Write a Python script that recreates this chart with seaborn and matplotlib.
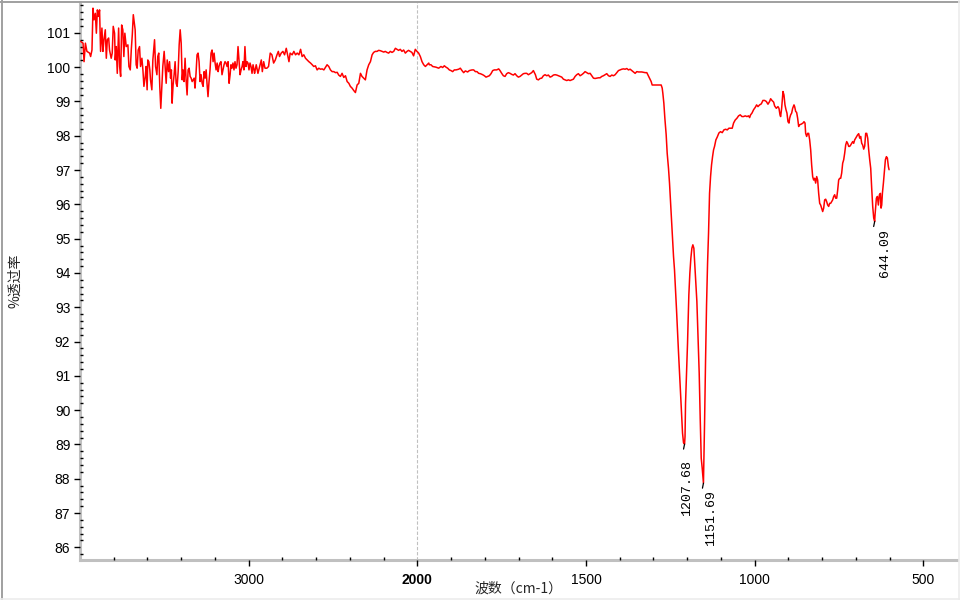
import numpy as np
import pandas as pd
import matplotlib
matplotlib.use("Agg")
import matplotlib.pyplot as plt
from matplotlib.lines import Line2D
from matplotlib.ticker import FixedLocator, NullFormatter
import seaborn as sns

# ---------------- data ----------------
wavenumber = [
    3996, 3982, 3976, 3968, 3959, 3943, 3937, 3929, 3923, 3917, 3909, 3903, 3897, 3890, 3884,
    3878, 3870, 3864, 3858, 3850, 3844, 3838, 3830, 3825, 3815, 3809, 3803, 3795, 3791, 3785,
    3779, 3771, 3765, 3759, 3753, 3746, 3740, 3734, 3726, 3716, 3710, 3702, 3696, 3690, 3684,
    3679, 3673, 3667, 3661, 3655, 3647, 3641, 3633, 3627, 3621, 3613, 3608, 3602, 3598, 3592,
    3586, 3582, 3574, 3568, 3558, 3552, 3544, 3539, 3533, 3527, 3521, 3515, 3509, 3501, 3495,
    3489, 3483,
    3475, 3469, 3463, 3458, 3454, 3448, 3442, 3436, 3430, 3424, 3418, 3412, 3406, 3400, 3394,
    3389, 3383, 3377, 3371, 3365, 3359, 3353, 3347, 3341, 3335, 3329, 3323, 3318, 3312, 3306,
    3300, 3294, 3288, 3282, 3276, 3270, 3264, 3258, 3252, 3247, 3241, 3235, 3229, 3223, 3217,
    3211, 3205, 3199, 3193, 3187, 3181, 3176, 3170, 3164, 3158, 3152, 3146, 3140, 3134, 3128,
    3122, 3116, 3110, 3105, 3099, 3093, 3087, 3081, 3075, 3069, 3063, 3057, 3051, 3045, 3039,
    3034, 3028, 3022, 3016, 3010, 3004, 2998, 2992, 2986, 2980, 2974, 2968,
    2965, 2955, 2945, 2935, 2925, 2919, 2911, 2903, 2892, 2882, 2872, 2862, 2852, 2842, 2832,
    2824, 2817, 2807, 2797, 2787, 2777, 2767, 2761, 2754, 2742, 2732, 2722, 2712, 2702, 2692,
    2683, 2673, 2663, 2653, 2643, 2633, 2623, 2614, 2604, 2594, 2584, 2574, 2564, 2554, 2544,
    2535, 2525, 2515, 2505, 2495, 2485, 2475, 2466, 2456, 2446, 2436, 2426, 2416, 2406, 2397,
    2387, 2377, 2367, 2357, 2347, 2337, 2328, 2318, 2308, 2298, 2288, 2278, 2268, 2259, 2249,
    2239, 2229, 2219, 2209, 2199, 2190, 2180, 2170, 2160, 2150, 2140, 2130, 2120, 2111, 2101,
    2091, 2081, 2071, 2061, 2052, 2042, 2032, 2022, 2012, 2002, 1996, 1991, 1986, 1981, 1976,
    1971, 1966,
    1964.4, 1959.5, 1954.5, 1944.7, 1936.7, 1929.8, 1924.9, 1919.9, 1915.0, 1910.0, 1905.1,
    1900.1, 1895.2, 1890.3, 1885.3, 1877.4, 1872.5, 1867.5, 1862.6, 1857.6, 1850.7, 1845.8,
    1837.8, 1832.9, 1827.9, 1823.0, 1818.1, 1813.1, 1806.2, 1801.2, 1796.3, 1791.4, 1786.4,
    1781.5, 1776.5, 1771.6, 1764.7, 1758.7, 1754.8, 1749.8, 1744.9, 1739.9, 1735.0, 1730.0,
    1725.1, 1720.2, 1715.2, 1710.3, 1705.3, 1700.4, 1695.4, 1690.5, 1685.5, 1680.6, 1675.6,
    1670.7, 1665.8, 1660.8, 1655.9, 1652.9, 1649.9, 1646.0, 1641.0, 1636.1, 1631.1, 1626.2,
    1621.3, 1616.3, 1611.4, 1606.4, 1601.5, 1596.5, 1591.6, 1586.6, 1581.7, 1576.7, 1571.8,
    1566.9, 1561.9, 1557.0, 1552.0, 1547.1, 1542.1, 1537.2, 1532.2, 1527.3, 1522.4, 1517.4,
    1512.5, 1507.5, 1502.6, 1497.6, 1492.7, 1487.7, 1482.8, 1477.8, 1472.9, 1467.9, 1463.0,
    1458.1, 1453.1, 1448.2, 1443.2, 1438.3, 1433.3, 1428.4, 1423.4, 1418.5, 1413.5, 1408.6,
    1403.7, 1398.7, 1393.8, 1388.8, 1383.9, 1378.9, 1374.0, 1369.0, 1364.1, 1359.2, 1354.2,
    1349.3, 1344.3, 1339.4, 1334.4, 1329.5, 1324.5, 1319.6,
    1316.6, 1311.6, 1306.7, 1303.7, 1291.9, 1277.0, 1274.0, 1272.1, 1269.1, 1266.1, 1262.2,
    1259.2, 1255.3, 1252.3, 1249.3, 1246.4, 1243.4, 1240.4, 1237.5, 1234.5, 1231.5, 1228.6,
    1225.6, 1222.6, 1219.7, 1216.7, 1213.7, 1210.8, 1207.68, 1206.3, 1204.8, 1201.9, 1198.9,
    1195.0, 1192.0, 1189.0, 1186.0, 1183.1, 1180.1, 1178.1, 1175.2, 1171.2, 1168.2, 1164.3,
    1161.3, 1158.3, 1155.4, 1151.69, 1150.4, 1148.4, 1145.5, 1142.5, 1139.5, 1136.6, 1133.6,
    1130.6, 1127.7, 1124.7, 1121.7, 1118.8, 1114.8, 1110.9, 1105.9, 1101.0, 1096.0, 1091.1,
    1086.1, 1081.2, 1076.2, 1071.3, 1066.4, 1062.4, 1057.5, 1052.5, 1047.6, 1042.6, 1037.7,
    1032.7, 1027.8, 1022.8, 1017.9,
    1014.8, 1011.9, 1007.9, 1003.0, 998.0, 994.1, 990.1, 985.2, 980.2, 975.3, 970.3, 965.4,
    960.4, 955.5, 952.5, 948.6, 943.6, 940.7, 935.7, 930.8, 927.8, 924.8, 922.9, 919.9, 917.9,
    915.9, 913.0, 910.0, 907.0, 904.1, 901.1, 898.1, 896.2, 893.2, 890.2, 887.2, 883.3, 881.3,
    878.3, 875.4, 872.4, 869.4, 866.5, 861.5, 856.6, 853.6, 850.6, 848.7, 845.7, 842.8, 839.8,
    836.8, 833.8, 830.9, 827.9, 825.0, 822.0, 819.0, 816.0, 813.1, 810.1, 807.1, 804.2, 801.2,
    798.2, 795.3, 792.3, 789.3, 786.4, 783.4, 780.4, 777.5, 774.5, 771.5, 768.6, 765.6, 762.6,
    759.7, 756.7, 753.7, 750.8, 747.8, 744.8, 741.9, 738.9, 735.9, 733.0, 730.0, 727.0, 724.1,
    721.1, 718.1, 715.2, 712.2, 709.2, 706.3, 703.3, 700.3, 697.4, 694.4, 691.4, 688.5, 685.5,
    682.5, 679.6, 676.6, 673.6, 670.7, 667.7, 664.7, 661.8, 658.8, 655.8, 652.9, 649.9, 646.9,
    644.09, 643.0, 641.0, 639.0, 636.0, 633.1, 630.1, 627.1, 625.2, 623.2, 621.2, 618.2, 615.3,
    612.3, 609.3, 606.4, 603.4, 601.4,
]

transmittance = [
    100.75, 100.70, 100.16, 100.70, 100.46, 100.41, 100.31, 100.50, 101.72, 101.38, 101.57, 100.99, 101.67, 101.48, 101.67,
    100.46, 101.14, 100.46, 100.80, 101.09, 100.26, 100.80, 100.85, 100.50, 100.26, 100.41, 101.19, 100.99, 100.21, 100.60,
    99.82, 101.14, 100.02, 99.73, 101.23, 101.09, 100.31, 100.99, 100.60, 100.65, 100.02, 99.92, 100.50, 100.94, 101.53,
    101.33, 101.09, 100.07, 99.97, 100.50, 100.60, 100.02, 100.26, 99.92, 99.44, 99.73, 100.02, 99.34, 100.21, 100.16,
    99.92, 99.63, 99.34, 100.21, 100.80, 100.02, 99.78, 100.31, 100.41, 99.44, 98.80, 99.44, 100.02, 100.46, 99.97,
    99.53, 100.21,
    99.87, 100.16, 99.68, 99.92, 98.95, 99.48, 99.78, 100.16, 99.53, 99.44, 99.87, 100.65, 101.09, 100.70, 99.63,
    99.92, 99.58, 100.26, 99.63, 99.19, 99.92, 99.97, 99.73, 99.68, 99.58, 99.63, 99.68, 99.39, 99.82, 100.36,
    100.41, 100.16, 99.58, 99.78, 99.53, 99.44, 99.87, 99.68, 99.92, 99.53, 99.14, 99.58, 99.92, 100.41, 100.50,
    100.16, 100.41, 100.12, 99.92, 100.12, 99.87, 100.02, 100.12, 100.16, 99.78, 99.92, 100.07, 100.16, 100.12, 100.02,
    100.16, 99.53, 99.78, 100.07, 99.97, 100.12, 99.92, 100.16, 99.97, 100.07, 100.60, 100.21, 99.78, 99.92, 100.02,
    100.16, 99.92, 100.60, 100.02, 100.16, 100.12, 99.92, 100.12, 100.02, 99.82, 100.07, 99.92,
    99.82, 100.07, 99.82, 100.02, 100.21, 99.87, 100.16, 99.97, 99.97, 100.02, 100.41, 100.36, 100.12, 100.21, 100.36,
    100.46, 100.31, 100.41, 100.46, 100.36, 100.55, 100.31, 100.16, 100.41, 100.36, 100.46, 100.36, 100.41, 100.36, 100.52,
    100.31, 100.36, 100.26, 100.21, 100.16, 100.12, 100.07, 100.02, 100.04, 99.92, 99.97, 99.94, 99.95, 99.92, 100.00,
    100.07, 100.02, 99.92, 99.87, 99.87, 99.84, 99.85, 99.77, 99.73, 99.82, 99.70, 99.75, 99.58, 99.53, 99.44,
    99.39, 99.32, 99.26, 99.48, 99.53, 99.82, 99.73, 99.68, 99.63, 99.92, 100.07, 100.16, 100.36, 100.43, 100.46,
    100.46, 100.49, 100.48, 100.46, 100.44, 100.46, 100.43, 100.41, 100.46, 100.43, 100.46, 100.55, 100.52, 100.49, 100.52,
    100.46, 100.50, 100.41, 100.46, 100.49, 100.46, 100.43, 100.33, 100.52, 100.46, 100.41, 100.31, 100.16, 100.07, 100.02,
    100.07, 100.12,
    100.07, 100.07, 100.02, 100.00, 99.97, 100.02, 99.99, 100.04, 100.00, 99.97, 99.92,
    99.90, 99.87, 99.92, 99.92, 99.94, 99.97, 99.90, 99.84, 99.89, 99.86, 99.90,
    99.92, 99.92, 99.87, 99.87, 99.82, 99.81, 99.78, 99.75, 99.71, 99.73, 99.75,
    99.81, 99.90, 99.92, 99.92, 99.95, 99.90, 99.82, 99.75, 99.73, 99.81, 99.84,
    99.82, 99.79, 99.77, 99.81, 99.75, 99.71, 99.73, 99.77, 99.81, 99.82, 99.82,
    99.78, 99.81, 99.84, 99.90, 99.84, 99.78, 99.65, 99.63, 99.67, 99.68, 99.75,
    99.78, 99.75, 99.77, 99.71, 99.73, 99.77, 99.78, 99.77, 99.75, 99.73, 99.71,
    99.65, 99.63, 99.61, 99.63, 99.61, 99.63, 99.65, 99.73, 99.78, 99.81, 99.75,
    99.78, 99.82, 99.87, 99.84, 99.81, 99.82, 99.75, 99.68, 99.67, 99.68, 99.69,
    99.69, 99.73, 99.75, 99.78, 99.81, 99.75, 99.73, 99.77, 99.75, 99.78, 99.84,
    99.90, 99.92, 99.94, 99.95, 99.94, 99.96, 99.92, 99.94, 99.90, 99.86, 99.82,
    99.87, 99.86, 99.86, 99.86, 99.85, 99.84, 99.84,
    99.78, 99.68, 99.58, 99.48, 99.48, 99.48, 99.39, 99.24, 98.95, 98.51, 98.03,
    97.49, 97.05, 96.62, 96.08, 95.60, 95.06, 94.48, 94.09, 93.51, 92.92, 92.29,
    91.68, 91.08, 90.49, 89.86, 89.33, 89.05, 89.01, 89.23, 90.20, 91.08, 91.95,
    93.36, 93.99, 94.43, 94.72, 94.82, 94.72, 94.38, 93.85, 93.17, 92.24, 91.08,
    89.76, 88.60, 88.31, 87.87, 88.55, 89.62, 91.42, 93.07, 94.28, 95.16, 96.32,
    96.81, 97.15, 97.39, 97.59, 97.69, 97.88, 97.96, 98.08, 98.12, 98.09, 98.17,
    98.19, 98.17, 98.22, 98.22, 98.22, 98.37, 98.46, 98.51, 98.58, 98.61, 98.56,
    98.56, 98.58, 98.56, 98.58,
    98.53, 98.61, 98.66, 98.76, 98.83, 98.90, 98.85, 98.90, 98.93, 99.03, 99.03, 99.00,
    98.92, 99.00, 99.08, 99.03, 98.98, 98.87, 98.80, 98.85, 98.80, 98.61, 98.56, 98.80, 99.05,
    99.29, 99.19, 98.90, 98.76, 98.66, 98.41, 98.37, 98.51, 98.61, 98.66, 98.80, 98.90, 98.85,
    98.71, 98.68, 98.51, 98.27, 98.32, 98.34, 98.37, 98.41, 98.37, 98.07, 97.98, 98.07, 98.07,
    97.88, 97.59, 97.15, 96.81, 96.71, 96.76, 96.62, 96.81, 96.71, 96.32, 96.03, 95.98, 95.89,
    95.79, 95.89, 96.13, 96.15, 96.08, 95.98, 95.94, 96.03, 96.03, 96.08, 96.13, 96.23, 96.28,
    96.18, 96.18, 96.42, 96.71, 96.76, 96.76, 96.91, 97.20, 97.30, 97.49, 97.73, 97.83, 97.78,
    97.69, 97.69, 97.73, 97.78, 97.83, 97.78, 97.88, 97.93, 97.98, 98.03, 98.06, 97.93, 97.98,
    97.78, 97.73, 97.61, 97.70, 98.07, 98.07, 97.93, 97.59, 97.30, 97.05, 96.47, 95.94, 95.60,
    95.50, 95.69, 95.94, 96.18, 96.23, 95.98, 96.28, 96.32, 95.89, 95.98, 96.32, 96.62, 96.96,
    97.30, 97.39, 97.35, 97.10, 97.01,
]

peak_wn = [1207.68, 1151.69, 644.09]
peak_t = [89.01, 87.87, 95.50]
peak_labels = ["1207.68", "1151.69", "644.09"]

x_major = [3000, 2000, 1500, 1000, 500]
x_labels = ["3000", "2000", "1500", "1000", "500"]
y_major = list(range(86, 102))

# ---------------- style ----------------
sns.set_theme(style="white")
plt.rcParams["font.family"] = ["Liberation Sans", "Noto Sans CJK SC", "DejaVu Sans"]

fig = plt.figure(figsize=(9.6, 6), dpi=100)
ax = fig.add_axes([80 / 960, 40 / 600, 877 / 960, 558 / 600])


def fwd(x):
    x = np.asarray(x, dtype=float)
    return np.where(x > 2000, 2000 + (x - 2000) / 2.0, x)


def inv(y):
    y = np.asarray(y, dtype=float)
    return np.where(y > 2000, 2000 + (y - 2000) * 2.0, y)


ax.set_xscale("function", functions=(fwd, inv))

df = pd.DataFrame({"wn": wavenumber, "t": transmittance})
sns.lineplot(data=df, x="wn", y="t", sort=False, estimator=None,
             color="#ff0000", lw=1.1, ax=ax, zorder=3)

ax.set_xlim(4000, 400)
ax.set_ylim(85.63, 101.9)

ax.axvline(2000, color="#c0c0c0", lw=0.8, ls=(0, (3, 1.6)), zorder=1)

# ticks
ax.set_xticks(x_major)
ax.set_xticklabels(x_labels)
ax.xaxis.set_minor_locator(FixedLocator(
    [v for v in list(range(3800, 2000, -200)) + list(range(1900, 400, -100)) if v not in x_major]))
ax.set_yticks(y_major)
ax.set_yticklabels([str(v) for v in y_major])
ax.yaxis.set_minor_locator(FixedLocator(
    [round(86 + 0.2 * i - 0.2 * 2, 1) for i in range(0, 85)]))
ax.xaxis.set_minor_formatter(NullFormatter())
ax.yaxis.set_minor_formatter(NullFormatter())

ax.tick_params(which="both", bottom=True, left=True, top=False, right=False)
ax.tick_params(which="major", direction="out", length=4, width=1, color="black",
               labelsize=10, labelcolor="black", pad=3)
ax.tick_params(which="minor", direction="in", length=2.2, width=1, color="black")
ax.tick_params(axis="x", which="major", pad=5)

for lbl in ax.get_xticklabels():
    if lbl.get_text() == "2000":
        lbl.set_fontweight("bold")

ax.set_axisbelow(False)
for side in ["top", "right"]:
    ax.spines[side].set_visible(False)
for side in ["left", "bottom"]:
    ax.spines[side].set_color("#c0c0c0")
    ax.spines[side].set_linewidth(2.2)
    ax.spines[side].set_zorder(0.8)

# axis labels
ax.set_xlabel("波数（cm-1）", fontsize=10, family=["Noto Sans CJK SC", "DejaVu Sans"])
ax.xaxis.set_label_coords(0.5, -0.039)
ax.set_ylabel("%透过率", fontsize=10, family=["Noto Sans CJK SC", "DejaVu Sans"])
ax.yaxis.set_label_coords(-0.066, 0.5)

# peak annotations
label_offsets = [(-4, -16), (2, -7), (4, -8)]
for wn, t, lab, (dx, dy) in zip(peak_wn, peak_t, peak_labels, label_offsets):
    ax.annotate("", xy=(wn, t), xytext=(-1, -5), textcoords="offset pixels",
                arrowprops=dict(arrowstyle="-", color="black", lw=0.9, shrinkA=0, shrinkB=0))
    ax.annotate(lab, xy=(wn, t), xytext=(dx, dy), textcoords="offset pixels",
                rotation=90, ha="left", va="top", fontsize=9.5,
                family=["Liberation Mono", "DejaVu Sans Mono"], color="black")

# window-like frame
fig.add_artist(Line2D([1.5 / 960, 1.5 / 960], [0, 1], transform=fig.transFigure, color="#a0a0a0", lw=1.4))
fig.add_artist(Line2D([0, 1], [1 - 1.5 / 600, 1 - 1.5 / 600], transform=fig.transFigure, color="#a0a0a0", lw=1.4))
fig.add_artist(Line2D([958.5 / 960, 958.5 / 960], [0, 1], transform=fig.transFigure, color="#ececec", lw=1.2))
fig.add_artist(Line2D([0, 1], [1.0 / 600, 1.0 / 600], transform=fig.transFigure, color="#ececec", lw=1.2))

fig.savefig("out.png", dpi=100)
